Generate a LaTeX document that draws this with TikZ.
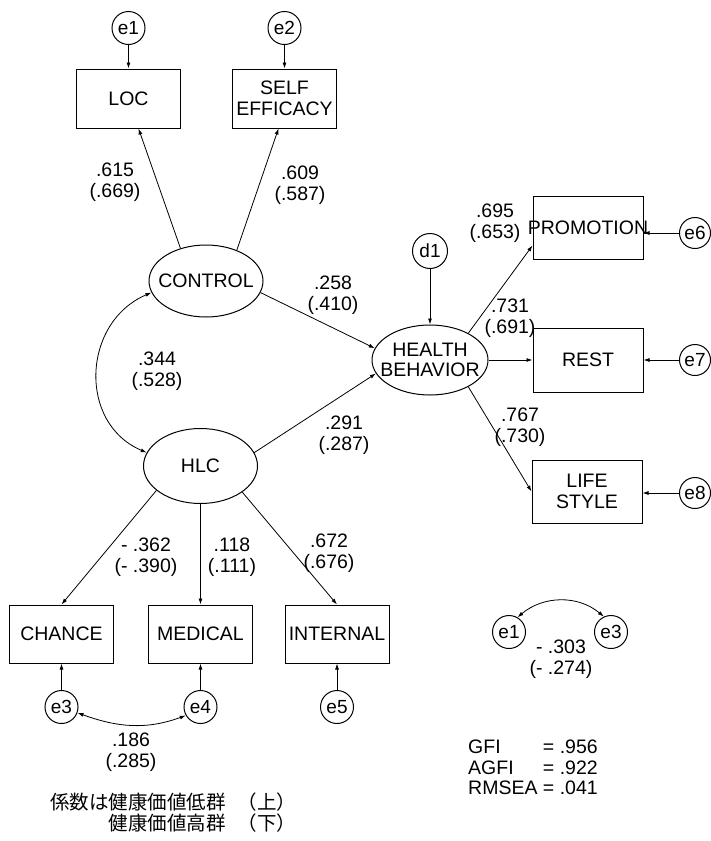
\documentclass[tikz,border=0pt]{standalone}
\usepackage{fontspec}
\setmainfont{Liberation Sans}
\newfontfamily\jpfont{Noto Sans CJK JP}
\usetikzlibrary{positioning,calc,shapes.geometric,arrows.meta}

\tikzset{
  obsbox/.style={draw, line width=1pt, rectangle, minimum width=104pt, minimum height=59pt,
                 inner sep=-10pt, align=center},
  widebox/.style={obsbox, minimum width=110pt, minimum height=63pt},
  latent/.style={draw, line width=1pt, ellipse, inner sep=-30pt, align=center},
  errc/.style={draw, line width=1pt, circle, minimum size=33pt, inner sep=0pt,
               font=\fontsize{19}{19}\selectfont},
  coef/.style={align=center, inner sep=0pt},
  pth/.style={line width=0.8pt, -{Latex[length=6pt,width=4pt]}},
  cov/.style={line width=0.8pt, {Latex[length=6pt,width=4pt]}-{Latex[length=6pt,width=4pt]}},
}

\begin{document}
\begin{tikzpicture}[x=1pt, y=-1pt, font=\fontsize{19.5}{20.5}\selectfont]
\useasboundingbox (0,0) rectangle (711,841);

\node[errc] (e1) at (128.5,28) {e1};
\node[errc] (e2) at (284.5,28) {e2};
\node[obsbox] (loc) at (128.5,98.5) {LOC};
\node[obsbox] (self) at (284.5,98.5) {SELF\\EFFICACY};
\node[latent, minimum width=114pt, minimum height=72pt] (control) at (206,281) {CONTROL};
\node[latent, minimum width=114pt, minimum height=75pt] (hlc) at (200.5,466) {HLC};
\node[latent, minimum width=116pt, minimum height=70pt] (hb) at (430,360) {HEALTH\\BEHAVIOR};
\node[errc, minimum size=35pt] (d1) at (430,251) {d1};
\node[widebox] (promo) at (588,227.5) {PROMOTION};
\node[widebox, minimum height=64pt] (rest) at (588,360) {REST};
\node[widebox] (life) at (587,491.5) {LIFE\\STYLE};
\node[errc, minimum size=31pt] (e6) at (695,233) {e6};
\node[errc, minimum size=31pt] (e7) at (695,360) {e7};
\node[errc, minimum size=31pt] (e8) at (695,493) {e8};
\node[obsbox, minimum height=58pt] (chance) at (61.5,634) {CHANCE};
\node[obsbox, minimum height=58pt] (medical) at (200.5,634) {MEDICAL};
\node[obsbox, minimum height=58pt] (internal) at (337,634) {INTERNAL};
\node[errc] (e3) at (61.5,707) {e3};
\node[errc] (e4) at (200.5,707) {e4};
\node[errc] (e5) at (337,707) {e5};
\node[errc] (e1b) at (509,632) {e1};
\node[errc] (e3b) at (611,632) {e3};

\draw[pth] (e1) -- (loc);
\draw[pth] (e2) -- (self);
\draw[pth] (control.128) -- ([xshift=10pt]loc.south);
\draw[pth] (control.45) -- ([xshift=-6pt]self.south);
\draw[pth] (control.-12) -- (hb.168);
\draw[pth] (hlc.14) -- (hb.-166);
\draw[cov] (control.192) to[out=203, in=157, looseness=1.2] (hlc.166);
\draw[pth] (d1) -- (hb);
\draw[pth] (hb.35) -- ([yshift=14pt]promo.south west);
\draw[pth] (hb) -- (rest);
\draw[pth] (hb.-35) -- (life.west);
\draw[pth] (e6) -- (e6 -| promo.east);
\draw[pth] (e7) -- (rest);
\draw[pth] (e8) -- (e8 -| life.east);
\draw[pth] (hlc.209) -- (chance.north);
\draw[pth] (hlc) -- (medical);
\draw[pth] (hlc.-32) -- (internal.north);
\draw[pth] (e3) -- (chance);
\draw[pth] (e4) -- (medical);
\draw[pth] (e5) -- (internal);
\draw[cov] (e3.-20) to[out=-20, in=200] (e4.210);
\draw[cov] (e1b.60) to[out=40, in=140] (e3b.115);

\node[coef] (c615) at (115,182) {.615\\(.669)};
\node[coef] (c609) at (300,185) {.609\\(.587)};
\node[coef] (c258) at (333,295) {.258\\(.410)};
\node[coef] (c344) at (157,371) {.344\\(.528)};
\node[coef] (c291) at (344,435) {.291\\(.287)};
\node[coef] (c695) at (495,223) {.695\\(.653)};
\node[coef] (c731) at (510,318) {.731\\(.691)};
\node[coef] (c767) at (520,427) {.767\\(.730)};
\node[coef] (c362) at (146,557) {- .362\\(- .390)};
\node[coef] (c118) at (232,557) {.118\\(.111)};
\node[coef] (c672) at (329,553) {.672\\(.676)};
\node[coef] (c186) at (131,752) {.186\\(.285)};
\node[coef] (c303) at (561,659) {- .303\\(- .274)};

\node[anchor=west, inner sep=0pt] (fit) at (468,770)
  {\begin{tabular}{@{}l@{\ }l@{}}GFI & = .956\\AGFI & = .922\\RMSEA & = .041\end{tabular}};
\node[anchor=west, align=right, inner sep=0pt, font=\jpfont\fontsize{19.5}{21}\selectfont] (note) at (50,813)
  {係数は健康価値低群\hspace{12pt}（上）\\健康価値高群\hspace{12pt}（下）};
\end{tikzpicture}
\end{document}
